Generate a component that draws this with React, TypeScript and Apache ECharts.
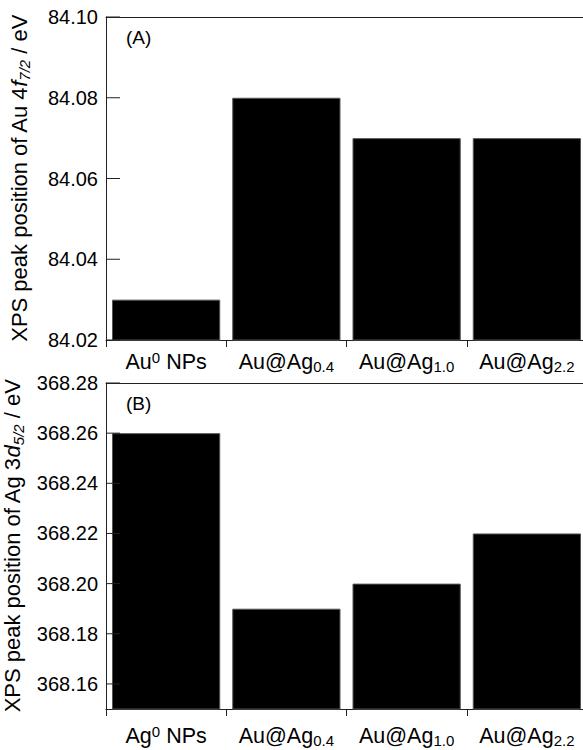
import React, { useEffect, useRef } from "react";
import * as echarts from "echarts";

const categoriesA = ["Au0 NPs", "Au@Ag0.4", "Au@Ag1.0", "Au@Ag2.2"];
const valuesA = [84.03, 84.08, 84.07, 84.07];
const categoriesB = ["Ag0 NPs", "Au@Ag0.4", "Au@Ag1.0", "Au@Ag2.2"];
const valuesB = [368.26, 368.19, 368.2, 368.22];
const ticksA = [84.02, 84.04, 84.06, 84.08, 84.1];
const ticksB = [368.16, 368.18, 368.2, 368.22, 368.24, 368.26, 368.28];

const FONT = "'Liberation Sans', Arial, sans-serif";
const AXIS_COLOR = "#222";

const catFormatter = (v: string) => {
  let m = v.match(/^(\w+)0 NPs$/);
  if (m) return `{n|${m[1]}}{p|0}{n| NPs}`;
  m = v.match(/^Au@Ag(.+)$/);
  if (m) return `{n|Au@Ag}{s|${m[1]}}`;
  return `{n|${v}}`;
};

const catRich = {
  n: { fontSize: 21.5, fontFamily: FONT, color: "#000", lineHeight: 24, verticalAlign: "middle" },
  s: { fontSize: 15, fontFamily: FONT, color: "#000", lineHeight: 14, verticalAlign: "bottom" },
  p: { fontSize: 15, fontFamily: FONT, color: "#000", lineHeight: 14, verticalAlign: "top" },
};

const nameRich = {
  t: { fontSize: 22, fontFamily: FONT, color: "#000", lineHeight: 26, verticalAlign: "middle" },
  i: { fontSize: 22, fontFamily: FONT, color: "#000", fontStyle: "italic", lineHeight: 26, verticalAlign: "middle" },
  s: { fontSize: 15, fontFamily: FONT, color: "#000", fontStyle: "italic", lineHeight: 15, verticalAlign: "bottom" },
};

export default function App() {
  const ref = useRef<HTMLDivElement>(null);
  useEffect(() => {
    if (!ref.current) return;
    const chart = echarts.init(ref.current, null, { renderer: "svg" });
    const gridCommon = {
      left: 106,
      right: -4,
      show: false,
      outerBoundsMode: "none",
      containLabel: false,
    };
    const yCommon = (ticks: number[], min: number, max: number, name: string, gridIndex: number) => ({
      type: "value",
      gridIndex,
      min,
      max,
      name,
      nameLocation: "middle",
      nameRotate: 90,
      nameGap: 74,
      nameTextStyle: { rich: nameRich, fontFamily: FONT, fontSize: 22, color: "#000" },
      axisLine: { show: true, lineStyle: { color: AXIS_COLOR, width: 1 } },
      axisTick: { show: false },
      axisLabel: {
        customValues: ticks,
        formatter: (v: number) => v.toFixed(2),
        fontSize: 20,
        fontFamily: FONT,
        color: "#000",
        margin: 8,
      },
      splitLine: { show: false },
    });
    const xCommon = (cats: string[], gridIndex: number, margin: number) => ({
      type: "category",
      gridIndex,
      data: cats,
      position: "bottom",
      axisLine: { show: true, onZero: false, lineStyle: { color: AXIS_COLOR, width: 1 } },
      axisTick: { show: true, inside: false, length: 7, alignWithLabel: false, lineStyle: { color: AXIS_COLOR, width: 1 } },
      axisLabel: { interval: 0, formatter: catFormatter, rich: catRich, margin, hideOverlap: false },
      splitLine: { show: false },
    });
    const xTop = (cats: string[], gridIndex: number) => ({
      type: "category",
      gridIndex,
      data: cats,
      position: "top",
      axisLine: { show: true, onZero: false, lineStyle: { color: AXIS_COLOR, width: 1 } },
      axisTick: { show: false },
      axisLabel: { show: false },
      splitLine: { show: false },
    });
    const tickSeries = (ticks: number[], axisIndex: number) => ({
      type: "custom",
      xAxisIndex: axisIndex,
      yAxisIndex: axisIndex,
      data: ticks.map((v) => [0, v]),
      clip: false,
      silent: true,
      z: 5,
      renderItem: (params: any, api: any) => {
        const y = api.coord([0, api.value(1)])[1];
        const x0 = params.coordSys.x;
        return {
          type: "line",
          shape: { x1: x0, y1: y, x2: x0 + 14, y2: y },
          style: { stroke: AXIS_COLOR, lineWidth: 1 },
        };
      },
    });
    chart.setOption({
      animation: false,
      backgroundColor: "#fff",
      grid: [
        { ...gridCommon, top: 17, height: 323 },
        { ...gridCommon, top: 383, height: 326 },
      ],
      xAxis: [xCommon(categoriesA, 0, 9.5), xCommon(categoriesB, 1, 15), xTop(categoriesA, 0), xTop(categoriesB, 1)],
      yAxis: [
        yCommon(ticksA, 84.02, 84.1, "{t|XPS peak position of Au 4}{i|f}{s|7/2}{t| / eV}", 0),
        yCommon(ticksB, 368.15, 368.28, "{t|XPS peak position of Ag 3}{i|d}{s|5/2}{t| / eV}", 1),
      ],
      graphic: [
        { type: "text", left: 126, top: 28, style: { text: "(A)", fontSize: 19, fontFamily: FONT, fill: "#000" } },
        { type: "text", left: 126, top: 394, style: { text: "(B)", fontSize: 19, fontFamily: FONT, fill: "#000" } },
      ],
      series: [
        {
          type: "bar",
          xAxisIndex: 0,
          yAxisIndex: 0,
          data: valuesA,
          barWidth: "90%",
          itemStyle: { color: "#000", borderColor: "#555", borderWidth: 1 },
        },
        {
          type: "bar",
          xAxisIndex: 1,
          yAxisIndex: 1,
          data: valuesB,
          barWidth: "90%",
          itemStyle: { color: "#000", borderColor: "#555", borderWidth: 1 },
        },
        tickSeries(ticksA, 0),
        tickSeries(ticksB, 1),
      ],
    });
    return () => chart.dispose();
  }, []);
  return (
    <div
      ref={ref}
      style={{ position: "absolute", left: 0, top: 0, width: 583, height: 750 }}
    />
  );
}
